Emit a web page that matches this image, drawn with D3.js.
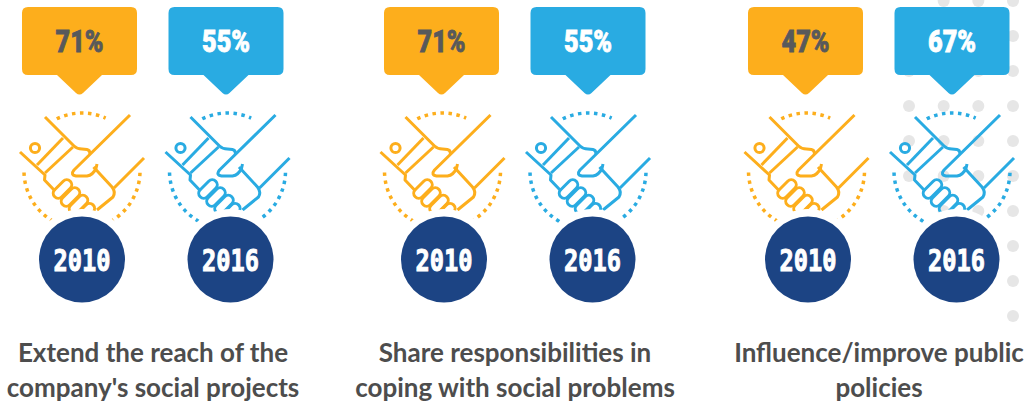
<!DOCTYPE html>
<html><head><meta charset="utf-8">
<script src="https://cdnjs.cloudflare.com/ajax/libs/d3/7.8.5/d3.min.js"></script>
<style>html,body{margin:0;padding:0;background:#fff;overflow:hidden}svg{display:block}</style>
</head><body><svg id="chart" width="1030" height="405"></svg>
<script>
// Share of companies per motive, by survey year
const motives = [["Extend the reach of the","company's social projects"],
                 ["Share responsibilities in","coping with social problems"],
                 ["Influence/improve public","policies"]];
const years = ["2010","2016"];
const share2010 = [71,71,47];
const share2016 = [55,55,67];
const yearColors = ["#fdae1c","#29abe2"];
const yearTextColors = ["#58595b","#ffffff"];
const navy = "#1c4484";

// Backdrop dot lattice: column index -> row indexes that are drawn
const dotRows = [[2,3,4,5],[0,1,2,3,4,5,6],[0,1,2,3,4,5,6],[0,1,2,3,4,5,6,7,8,9]];

const svg = d3.select("#chart");
const groupX = d3.scaleOrdinal().domain([0,1,2]).range([0,362,726]);
const yearX = d3.scaleOrdinal().domain(years).range([0,146.5]);
const dotX = d3.scaleLinear().domain([0,3]).range([909,1013]);
const dotY = d3.scaleLinear().domain([0,9]).range([1,316]);

svg.append("g").selectAll("circle")
  .data(dotRows.flatMap((rows,c)=>rows.map(r=>[c,r])))
  .join("circle")
  .attr("cx",d=>dotX(d[0])).attr("cy",d=>dotY(d[1])).attr("r",6).attr("fill","#e6e6e6");

// Handshake glyph, drawn around its own origin
function handshake(g,color){
  const line = g.append("g").attr("fill","none").attr("stroke",color)
    .attr("stroke-width",3).attr("stroke-linejoin","round");
  [
    "M45,117L74,146Q77,149 82,149L87,149.5Q90,150 90,154",
    "M130,115L74,170Q70,175 76,176L87,176Q93,175 96,168.5L97,164",
    "M144,158L114,188",
    "M93.5,167L112,187Q116,192 113,197L97,210",
    "M20,152L45,175L44.5,180L55,191",
    "M37,165L63,138",
    "M45,173L73,147"
  ].forEach(d=>line.append("path").attr("d",d));
  line.append("circle").attr("cx",35).attr("cy",148).attr("r",4.6);
  // curled fingers
  [[62.5,189,22],[70.5,197,22],[78.5,204.5,22],[86,212,20]].forEach(([x,y,w])=>{
    line.append("rect").attr("x",-w/2).attr("y",-5).attr("width",w).attr("height",10).attr("rx",5)
      .attr("transform",`translate(${x},${y}) rotate(-45)`);
  });
  // dotted ring, in three arcs (angles measured clockwise from twelve o'clock)
  [[-0.45,0.42],[1.6,2.9],[-2.9,-1.55]].forEach(([a,b])=>{
    const p = d3.path();
    p.arc(82,171,58,a-Math.PI/2,b-Math.PI/2);
    g.append("path").attr("d",p.toString())
      .attr("fill","none").attr("stroke",color).attr("stroke-width",3.5).attr("stroke-dasharray","3.5 4.5");
  });
}

motives.forEach((lines,i)=>{
  const grp = svg.append("g").attr("transform",`translate(${groupX(i)},0)`);
  const vals = [share2010[i],share2016[i]];
  years.forEach((yr,j)=>{
    const g = grp.append("g").attr("transform",`translate(${yearX(yr)},0)`);
    const c = yearColors[j];
    handshake(g.append("g").attr("transform",`translate(${-(j?1:0)-(i?1.5:0)},0)`),c);
    const cx = 82 + (j?2:0);
    // white halo masks the lower part of the glyph
    g.append("circle").attr("cx",cx).attr("cy",259).attr("r",50).attr("fill","#fff");
    g.append("circle").attr("cx",cx).attr("cy",259.5).attr("r",43).attr("fill",navy);
    g.append("text").text(yr).attr("x",cx).attr("y",271)
      .attr("text-anchor","middle").attr("fill","#fff").attr("stroke","#fff").attr("stroke-width",1)
      .attr("font-family","DejaVu Sans Mono").attr("font-weight",700).attr("font-size",31)
      .attr("textLength",57).attr("lengthAdjust","spacingAndGlyphs");
    // callout with the share
    g.append("path").attr("fill",c)
      .attr("d","M28,7H131Q137,7 137,13V69Q137,75 131,75H102L83,93Q79.5,96 76,93L57,75H28Q22,75 22,69V13Q22,7 28,7Z");
    g.append("text").text(vals[j]+"%").attr("x",79.5).attr("y",52)
      .attr("text-anchor","middle").attr("fill",yearTextColors[j]).attr("stroke",yearTextColors[j]).attr("stroke-width",0.8)
      .attr("font-family","Roboto").attr("font-weight",900).attr("font-size",32)
      .attr("textLength",48).attr("lengthAdjust","spacingAndGlyphs");
  });
  const t = grp.append("g").attr("text-anchor","middle").attr("fill","#4d4d4d")
    .attr("font-family","Lato").attr("font-weight",700).attr("font-size",26);
  lines.forEach((s,k)=>t.append("text").text(s).attr("x",153).attr("y",362+k*35));
});
</script></body></html>
